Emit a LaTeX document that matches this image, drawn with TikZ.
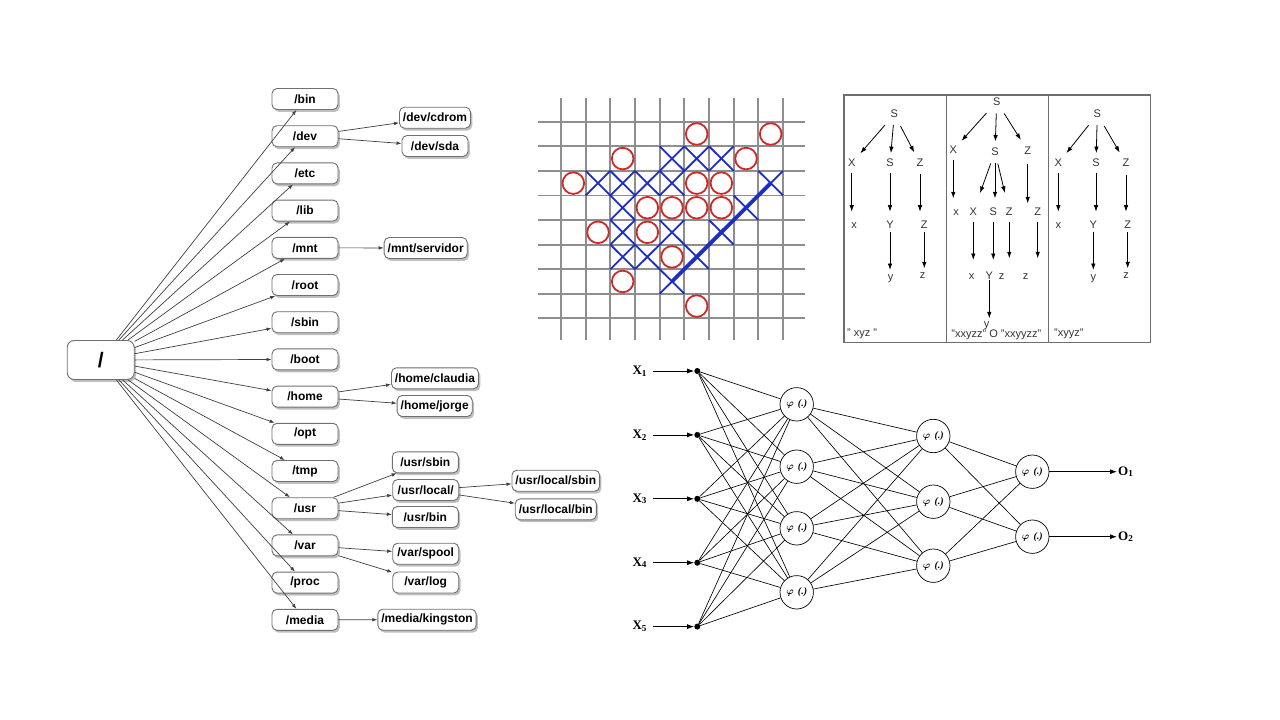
\documentclass[tikz,border=0pt]{standalone}
\usepackage{fontspec}
\setmainfont{Liberation Serif}
\setsansfont{Liberation Sans}
\usepackage{amsmath,bm}
\usetikzlibrary{arrows.meta,shadows}

\definecolor{boxline}{HTML}{707070}
\definecolor{edgegray}{HTML}{404040}
\definecolor{gridgray}{HTML}{8E8E8E}
\definecolor{ored}{HTML}{CF2A2A}
\definecolor{xblue}{HTML}{1E2EC2}
\definecolor{framegray}{HTML}{6E6E6E}

\tikzset{
  dirbox/.style={draw=boxline,fill=white,line width=0.9pt,rounded corners=5pt,
    minimum width=66pt,minimum height=21pt,inner xsep=3.5pt,inner ysep=0pt,
    font=\sffamily\bfseries\fontsize{12}{14}\selectfont,
    drop shadow={shadow xshift=1.8pt,shadow yshift=-2.4pt,fill=black!50,opacity=0.5}},
  dirarrow/.style={draw=edgegray,line width=0.7pt,-{Latex[length=5pt,width=3.6pt]}},
  gridline/.style={gridgray,line width=1.8pt},
  opiece/.style={ored,line width=1.8pt},
  xpiece/.style={xblue,line width=1.8pt},
  sym/.style={inner sep=1pt,text height=7pt,text depth=0pt,text=black!80,
    font=\sffamily\fontsize{11}{12}\selectfont},
  derive/.style={line width=0.8pt,-{Latex[length=6.5pt,width=4.5pt]}},
  panelline/.style={framegray,line width=1.4pt},
  neuron/.style={draw,circle,minimum size=33.4pt,inner sep=0pt,line width=0.7pt,
    font=\bfseries\fontsize{10}{11}\selectfont},
  inputdot/.style={fill,circle,minimum size=6pt,inner sep=0pt},
  netlabel/.style={font=\bfseries\fontsize{13}{15}\selectfont,inner sep=1pt},
  synapse/.style={line width=0.65pt},
  netarrow/.style={line width=0.8pt,-{Latex[length=7pt,width=5pt]}}
}

\begin{document}
\begin{tikzpicture}[x=1pt,y=-1pt]
\useasboundingbox[fill=white] (0,0) rectangle (1280,720);

% directory tree
\node[dirbox,minimum width=67pt,minimum height=39pt,rounded corners=7pt,
  font=\sffamily\bfseries\fontsize{21}{24}\selectfont] (slash) at (100.7,360) {/};
\foreach \d [count=\i from 0] in {bin,dev,etc,lib,mnt,root,sbin,boot,home,opt,tmp,usr,var,proc,media}
  \node[dirbox] (\d) at (305,{99+37.2*\i}) {/\d};

\node[dirbox] (cdrom) at (435,117.7) {/dev/cdrom};
\node[dirbox] (sda) at (435,146) {/dev/sda};
\node[dirbox] (servidor) at (425.7,248) {/mnt/servidor};
\node[dirbox] (claudia) at (435,378.3) {/home/claudia};
\node[dirbox] (jorge) at (434.7,406) {/home/jorge};
\node[dirbox] (usrsbin) at (425.3,462.3) {/usr/sbin};
\node[dirbox] (usrlocal) at (425.7,490) {/usr/local/};
\node[dirbox] (usrbin) at (425.3,517) {/usr/bin};
\node[dirbox] (localsbin) at (555.8,480.7) {/usr/local/sbin};
\node[dirbox] (localbin) at (555.8,509.3) {/usr/local/bin};
\node[dirbox] (spool) at (425.7,553.7) {/var/spool};
\node[dirbox] (log) at (425.7,582.5) {/var/log};
\node[dirbox] (kingston) at (427,619.7) {/media/kingston};

\foreach \d in {bin,dev,etc,lib,mnt,root,sbin,boot,home,opt,tmp,usr,var,proc,media}
  \draw[dirarrow] (slash) -- (\d);
\foreach \a/\b in {dev/cdrom,dev/sda,mnt/servidor,home/claudia,home/jorge,usr/usrsbin,
    usr/usrlocal,usr/usrbin,usrlocal/localsbin,usrlocal/localbin,var/spool,var/log,media/kingston}
  \draw[dirarrow] (\a) -- (\b);

% five in a row board
\begin{scope}[shift={(561,121.7)},x=24.67pt,y=-24.58pt]
  \foreach \i in {0,...,9} \draw[gridline] (\i,-0.95) -- (\i,8.88);
  \foreach \j in {0,...,8} \draw[gridline] (-0.93,\j) -- (9.9,\j);
  \foreach \c/\r in {5/0,8/0,2/1,7/1,0/2,5/2,6/2,3/3,4/3,5/3,6/3,1/4,3/4,4/5,2/6,5/7}
    \draw[opiece] (\c+0.5,\r+0.5) circle[radius=10.8pt];
  \foreach \c/\r in {4/1,5/1,6/1,1/2,2/2,3/2,4/2,8/2,2/3,7/3,2/4,4/4,6/4,2/5,3/5,5/5,4/6}
    \draw[xpiece] (\c,\r) -- (\c+1,\r+1) (\c+1,\r) -- (\c,\r+1);
  \draw[xblue,line width=3.8pt] (4.5,6.5) -- (8.5,2.5);
\end{scope}

% derivation trees
\draw[panelline] (844,95) rectangle (1150.7,342.5);
\draw[panelline] (946.7,95) -- (946.7,342.5);
\draw[panelline] (1048.3,95) -- (1048.3,342.5);

\node[sym] (aS) at (894.3,114.3) {S};
\node[sym] (aX) at (851.7,163.3) {X};
\node[sym] (aS2) at (890,163.3) {S};
\node[sym] (aZ) at (920,163.3) {Z};
\node[sym] (ax) at (854,225) {x};
\node[sym] (aY) at (890,225) {Y};
\node[sym] (aZ2) at (924.3,225) {Z};
\node[sym] (ay) at (890.7,276.7) {y};
\node[sym] (az) at (922.7,275) {z};
\node[sym,anchor=west] (aword) at (846,333.3) {" xyz "};
\draw[derive,shorten <=8pt,shorten >=7pt] (aS) -- (aX);
\draw[derive,shorten <=6pt,shorten >=5.5pt] (aS) -- (aS2);
\draw[derive,shorten <=8pt,shorten >=7pt] (aS) -- (aZ);
\draw[derive,shorten <=4.5pt,shorten >=13.3pt] (aX) -- (aX |- ax);
\draw[derive,shorten <=4.5pt,shorten >=13.3pt] (aS2) -- (aS2 |- aY);
\draw[derive,shorten <=6.2pt,shorten >=13.3pt] (aZ) -- (aZ |- aZ2);
\draw[derive,shorten <=2.2pt,shorten >=6.7pt] (aY) -- (aY |- ay);
\draw[derive,shorten <=2.2pt,shorten >=6.7pt] (aZ2) -- (aZ2 |- az);

\node[sym] (bS) at (996.7,101.7) {S};
\node[sym] (bX) at (953.3,150) {X};
\node[sym] (bS2) at (995,151.7) {S};
\node[sym] (bZ) at (1027.7,150.7) {Z};
\node[sym] (bx) at (956,211.7) {x};
\node[sym] (bX2) at (973.3,211.7) {X};
\node[sym] (bS3) at (993.3,211.7) {S};
\node[sym] (bZ2) at (1009.3,211.7) {Z};
\node[sym] (bZ3) at (1037.7,211.7) {Z};
\node[sym] (bx2) at (971.7,275.7) {x};
\node[sym] (bY) at (989.3,275.7) {Y};
\node[sym] (bz) at (1001.7,275.7) {z};
\node[sym] (bz2) at (1025.7,275.7) {z};
\node[sym] (by) at (986.7,324.3) {y};
\node[sym] (bword) at (996.3,334) {"xxyzz" O "xxyyzz"};
\draw[derive,shorten <=9pt,shorten >=6pt] (bS) -- (bX);
\draw[derive,shorten <=7.1pt,shorten >=5.5pt] (bS) -- (bS2);
\draw[derive,shorten <=8.4pt,shorten >=7.3pt] (bS) -- (bZ);
\draw[derive,shorten <=5.5pt,shorten >=13.4pt] (bX) -- (bX |- bx);
\draw[derive,shorten <=7.5pt,shorten >=14.8pt] (bS2) -- (bX2);
\draw[derive,shorten <=7pt,shorten >=13.4pt] (bS2) -- (bS2 |- bS3);
\draw[derive,shorten <=7.5pt,shorten >=14.5pt] (bS2) -- (bZ2);
\draw[derive,shorten <=8.1pt,shorten >=8.4pt] (bZ) -- (bZ |- bZ3);
\draw[derive,shorten <=5.5pt,shorten >=15.7pt] (bX2) -- (bX2 |- bx2);
\draw[derive,shorten <=5.5pt,shorten >=15.7pt] (bS3) -- (bS3 |- bY);
\draw[derive,shorten <=5.5pt,shorten >=17.4pt] (bZ2) -- (bZ2 |- bz);
\draw[derive,shorten <=5.5pt,shorten >=17.4pt] (bZ3) -- (bZ3 |- bz2);
\draw[derive,shorten >=6pt] (bY) -- (bY |- by);

\node[sym] (cS) at (1097.3,114.3) {S};
\node[sym] (cX) at (1058.3,163.3) {X};
\node[sym] (cS2) at (1096,163.3) {S};
\node[sym] (cZ) at (1126,163.3) {Z};
\node[sym] (cx) at (1058.3,225) {x};
\node[sym] (cY) at (1093.3,225) {Y};
\node[sym] (cZ2) at (1127.7,225) {Z};
\node[sym] (cy) at (1093.3,276.7) {y};
\node[sym] (cz) at (1126,275) {z};
\node[sym,anchor=west] (cword) at (1053,333.3) {"xyyz"};
\draw[derive,shorten <=8pt,shorten >=7pt] (cS) -- (cX);
\draw[derive,shorten <=6pt,shorten >=5.5pt] (cS) -- (cS2);
\draw[derive,shorten <=8pt,shorten >=7pt] (cS) -- (cZ);
\draw[derive,shorten <=4.5pt,shorten >=13.3pt] (cX) -- (cX |- cx);
\draw[derive,shorten <=4.5pt,shorten >=13.3pt] (cS2) -- (cS2 |- cY);
\draw[derive,shorten <=6.7pt,shorten >=13.3pt] (cZ) -- (cZ |- cZ2);
\draw[derive,shorten <=2.2pt,shorten >=6.7pt] (cY) -- (cY |- cy);
\draw[derive,shorten <=2.2pt,shorten >=6.7pt] (cZ2) -- (cZ2 |- cz);

% neural network
\foreach \i in {1,...,5} {
  \node[netlabel] (x\i) at (639.8,{371+63.9*(\i-1)}) {X\textsubscript{\i}};
  \node[inputdot] (in\i) at (697.3,{371+63.9*(\i-1)}) {};
  \draw[netarrow,shorten <=5pt] (x\i) -- (in\i);
}
\foreach \y [count=\i] in {404.3,466.7,528.3,592.3}
  \node[neuron] (h\i) at (796.7,\y) {$\boldsymbol{\varphi}$\, \textit{(.)}};
\foreach \y [count=\i] in {436,501.7,565.7}
  \node[neuron] (g\i) at (933.3,\y) {$\boldsymbol{\varphi}$\, \textit{(.)}};
\foreach \y [count=\i] in {471.7,536.7} {
  \node[neuron] (o\i) at (1032.3,\y) {$\boldsymbol{\varphi}$\, \textit{(.)}};
  \node[netlabel,anchor=west] (out\i) at (1117,\y) {O\textsubscript{\i}};
  \draw[netarrow] (o\i) -- (out\i);
}
\foreach \i in {1,...,5} \foreach \j in {1,...,4} \draw[synapse] (in\i) -- (h\j);
\foreach \i in {1,...,4} \foreach \j in {1,...,3} \draw[synapse] (h\i) -- (g\j);
\foreach \i in {1,...,3} \foreach \j in {1,2} \draw[synapse] (g\i) -- (o\j);

\end{tikzpicture}
\end{document}
